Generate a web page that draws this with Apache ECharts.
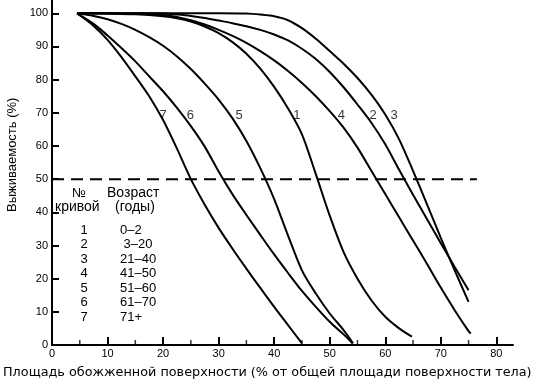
<!DOCTYPE html>
<html><head><meta charset="utf-8">
<script src="https://cdn.jsdelivr.net/npm/echarts@6/dist/echarts.min.js"></script>
<style>html,body{margin:0;padding:0;background:#fff}#c{width:550px;height:389px}</style>
</head><body><div id="c"></div>
<script>
// ---- data ----
const curveNames = ['1', '2', '3', '4', '5', '6', '7'];
const ageGroups = ['0–2', ' 3–20', '21–40', '41–50', '51–60', '61–70', '71+'];
const xTicks = [0, 10, 20, 30, 40, 50, 60, 70, 80];
const xMinorTicks = [5, 15, 25, 35, 45, 55, 65, 75];
const yTicks = [0, 10, 20, 30, 40, 50, 60, 70, 80, 90, 100];

const curve1 = [[4.5,100],[10,99.9],[15,99.7],[20,99.1],[22.5,98.5],[25,97.5],[27.5,96],[30,94],[32.5,91.3],[35,87.8],[37.5,83.3],[40,77.8],[42.5,71.3],[45,63.5],[47.5,51.5],[50,39],[52.5,28],[55,20],[57.5,13.5],[60,8.5],[62.5,5],[64.8,2.5]];
const curve2 = [[4.5,100],[20,99.9],[22.5,99.6],[25,99.2],[27.5,98.6],[30,97.8],[32.5,97],[35,96.1],[37.5,95],[40,93.6],[42.5,91.8],[45,89.3],[47.5,86.2],[50,82.3],[52.5,77.7],[55,72.5],[57.5,67],[60,60.5],[62.5,52.8],[65,45.3],[67.5,38],[70,30.7],[72.5,23.5],[75,16.5]];
const curve3 = [[4.5,100],[30,100],[35,99.9],[37.5,99.6],[40,99.1],[42.5,97.9],[45,95.5],[47.5,92.3],[50,88.6],[52.5,84.8],[55,80.5],[57.5,75.5],[60,69.5],[62.5,62],[65,52.5],[67.5,42.5],[70,32.3],[72.5,22.5],[75,13]];
const curve4 = [[4.5,100],[15,99.9],[20,99.5],[22.5,98.9],[25,97.9],[27.5,96.6],[30,95],[32.5,93.2],[35,91.1],[37.5,88.6],[40,85.8],[42.5,82.6],[45,79],[47.5,75],[50,70.5],[52.5,65.5],[55,59.5],[57.5,52.5],[60,45.5],[62.5,38.5],[65,31.5],[67.5,24.5],[70,17.3],[72.5,10.5],[75,4.2],[75.4,3.5]];
const curve5 = [[4.5,100],[7.5,99.2],[10,98.2],[12.5,96.8],[15,95],[17.5,92.8],[20,90.2],[22.5,87],[25,83.2],[27.5,78.8],[30,74],[32.5,68.3],[35,61.5],[37.5,53.3],[40,44],[42.5,33],[45,22.5],[47.5,15.5],[50,9.5],[52.5,4.5],[54.2,0.5]];
const curve6 = [[4.5,100],[7.5,96.8],[10,93.3],[12.5,89.5],[15,85.5],[17.5,81],[20,76.5],[22.5,71.5],[25,66],[27.5,59.8],[30,52.3],[32.5,45.4],[35,39.2],[37.5,33.2],[40,27.3],[42.5,21.7],[45,16.3],[47.5,11.5],[50,7],[52.5,3.2],[54.1,0.5]];
const curve7 = [[4.5,100],[7.5,96.2],[10,92],[12.5,86.8],[15,81],[17.5,75],[20,67.8],[22.5,59.2],[25,50],[27.5,42.3],[30,35.3],[32.5,29],[35,23],[37.5,17.2],[40,11.5],[42.5,6],[45,0.5]];
const curves = [curve1, curve2, curve3, curve4, curve5, curve6, curve7];

const curveLabelX = [44.1, 57.8, 61.6, 52.1, 33.7, 24.9, 20.0];
const curveLabelY = 69.3;
const thresholdY = 50;
const thresholdEndX = 76.5;

const xTitle = 'Площадь обожженной поверхности (% от общей площади поверхности тела)';
const yTitle = 'Выживаемость (%)';
const tableHead1 = ['№', 'Возраст'];
const tableHead2 = ['кривой', '(годы)'];

// ---- chart ----
const FONT = '"Liberation Sans", Arial, sans-serif';
const chart = echarts.init(document.getElementById('c'), null, {renderer: 'canvas'});

const series = curves.map((d, i) => ({
  name: curveNames[i], type: 'line', data: d, smooth: 0.3, showSymbol: false, symbol: 'none',
  lineStyle: {color: '#000', width: 2}, z: 3, animation: false
}));
series.push({
  type: 'line', data: [[0, thresholdY], [thresholdEndX, thresholdY]], showSymbol: false, symbol: 'none',
  lineStyle: {color: '#000', width: 2, type: [12, 7]}, z: 2, animation: false
});
series.push({
  type: 'scatter', symbolSize: 0, animation: false,
  data: curveNames.map((n, i) => ({value: [curveLabelX[i], curveLabelY], name: n})),
  label: {show: true, position: 'inside', formatter: p => p.name, color: '#000', fontSize: 13, fontFamily: FONT}
});
// minor ticks on the x axis (short, pointing inward)
series.push({
  type: 'scatter', animation: false, symbol: 'rect', symbolSize: [1.5, 5], symbolOffset: [0, -2.5],
  itemStyle: {color: '#000'}, silent: true, z: 4,
  data: xMinorTicks.map(v => [v, 0])
});

const graphics = [];
graphics.push({type: 'text', left: 3, top: 366, style: {text: xTitle, fill: '#000', font: '12.8px "DejaVu Sans", sans-serif'}});
graphics.push({type: 'text', x: 6, y: 212, rotation: Math.PI / 2, style: {text: yTitle, fill: '#000', font: '13px ' + FONT, textVerticalAlign: 'top'}, originX: 0, originY: 0});
graphics.push({type: 'text', x: 79, y: 193, style: {text: tableHead1[0], fill: '#000', font: '13px ' + FONT, textAlign: 'center', textVerticalAlign: 'middle'}});
graphics.push({type: 'text', x: 107, y: 193, style: {text: tableHead1[1], fill: '#000', font: '14px ' + FONT, textAlign: 'left', textVerticalAlign: 'middle'}});
graphics.push({type: 'text', x: 55, y: 207, style: {text: tableHead2[0], fill: '#000', font: '14px ' + FONT, textAlign: 'left', textVerticalAlign: 'middle'}});
graphics.push({type: 'text', x: 115, y: 207, style: {text: tableHead2[1], fill: '#000', font: '14px ' + FONT, textAlign: 'left', textVerticalAlign: 'middle'}});
curveNames.forEach((n, i) => {
  const y = 230 + i * 14.55;
  graphics.push({type: 'text', x: 84, y: y, style: {text: n, fill: '#000', font: '13px ' + FONT, textAlign: 'center', textVerticalAlign: 'middle'}});
  graphics.push({type: 'text', x: 120, y: y, style: {text: ageGroups[i], fill: '#000', font: '13px ' + FONT, textAlign: 'left', textVerticalAlign: 'middle'}});
});

chart.setOption({
  backgroundColor: '#fff',
  animation: false,
  grid: {left: 52, right: 37, top: 0, bottom: 44, containLabel: false},
  xAxis: {
    type: 'value', min: 0, max: 83,
    axisLine: {show: true, onZero: false, lineStyle: {color: '#000', width: 2}},
    axisTick: {show: true, inside: true, length: 8, customValues: xTicks, lineStyle: {color: '#000', width: 2}},
    axisLabel: {customValues: xTicks, color: '#000', fontSize: 11, margin: 3, fontFamily: FONT},
    splitLine: {show: false}
  },
  yAxis: {
    type: 'value', min: 0, max: 104,
    axisLine: {show: true, lineStyle: {color: '#000', width: 2}},
    axisTick: {show: true, inside: true, length: 7, customValues: yTicks, lineStyle: {color: '#000', width: 2}},
    axisLabel: {customValues: yTicks, color: '#000', fontSize: 11, margin: 4, fontFamily: FONT},
    splitLine: {show: false}
  },
  series: series,
  graphic: graphics
});
</script></body></html>
